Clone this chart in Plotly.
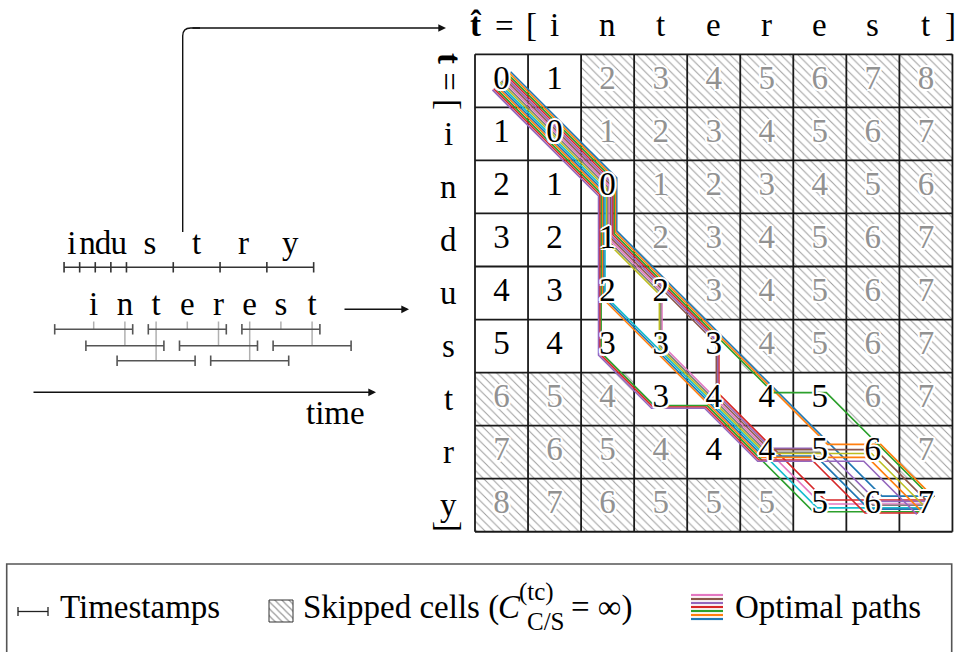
import plotly.graph_objects as go

W, H = 958, 652

# ---------------- data ----------------
industry_chars = list("industry")
industry_bounds = [0.6, 1.6, 2.6, 3.6, 4.6, 7.6, 10.6, 13.6, 16.6]
interest_chars = list("interest")
window_starts = [0, 2, 4, 6, 8, 10, 12, 14]
window_len = 5
window_lane = [0, 1, 2, 0, 1, 2, 0, 1]

row_labels = list("industry")
col_labels = list("interest")
cost = [
    [0, 1, 2, 3, 4, 5, 6, 7, 8],
    [1, 0, 1, 2, 3, 4, 5, 6, 7],
    [2, 1, 0, 1, 2, 3, 4, 5, 6],
    [3, 2, 1, 2, 3, 4, 5, 6, 7],
    [4, 3, 2, 2, 3, 4, 5, 6, 7],
    [5, 4, 3, 3, 3, 4, 5, 6, 7],
    [6, 5, 4, 3, 4, 4, 5, 6, 7],
    [7, 6, 5, 4, 4, 4, 5, 6, 7],
    [8, 7, 6, 5, 5, 5, 5, 6, 7],
]
skipped = [
    [0, 0, 1, 1, 1, 1, 1, 1, 1],
    [0, 0, 1, 1, 1, 1, 1, 1, 1],
    [0, 0, 0, 1, 1, 1, 1, 1, 1],
    [0, 0, 0, 1, 1, 1, 1, 1, 1],
    [0, 0, 0, 0, 1, 1, 1, 1, 1],
    [0, 0, 0, 0, 0, 1, 1, 1, 1],
    [1, 1, 1, 0, 0, 0, 0, 1, 1],
    [1, 1, 1, 1, 0, 0, 0, 0, 1],
    [1, 1, 1, 1, 1, 1, 0, 0, 0],
]
path_colors = ["#1f77b4", "#ff7f0e", "#2ca02c", "#d62728", "#9467bd",
               "#8c564b", "#e377c2", "#7f7f7f", "#bcbd22", "#17becf"]
legend_text = ["Timestamps", "Skipped cells (", "Optimal paths"]

# ---------------- style ----------------
FONT = "Liberation Serif"
FS = 33
HALO = ("white 2px 0px 0px, white -2px 0px 0px, white 0px 2px 0px, white 0px -2px 0px, "
        "white 1.5px 1.5px 0px, white -1.5px -1.5px 0px, white 1.5px -1.5px 0px, white -1.5px 1.5px 0px")

def px(x):
    return x / W

def py(y):
    return 1 - y / H

R, C = len(cost), len(cost[0])
CELL = 53.05
GX0, GY0 = 475.0, 54.3  # grid top-left in pixels
PADU = 0.06

# ---------------- optimal paths (backtracking on the cost matrix) ----------------
def preds(r, c):
    out = []
    for dr, dc, code in [(1, 1, 0), (1, 0, 1), (0, 1, 2)]:
        pr, pc = r - dr, c - dc
        if pr < 0 or pc < 0 or skipped[pr][pc]:
            continue
        if dr and dc:
            step = 0 if row_labels[r - 1] == col_labels[c - 1] else 1
        else:
            step = 1
        if cost[pr][pc] + step == cost[r][c]:
            out.append(((pr, pc), code))
    return out

paths = []

def back(cell, cells, codes):
    if cell == (0, 0):
        paths.append((codes[::-1], cells[::-1]))
        return
    for p, code in preds(*cell):
        back(p, cells + [p], codes + [code])

back((R - 1, C - 1), [(R - 1, C - 1)], [])
paths.sort(key=lambda t: t[0])

fig = go.Figure()

# ---------------- hatched (skipped) cells ----------------
hx, hb = [], []
for r in range(R):
    for c in range(C):
        if skipped[r][c]:
            hx.append(c)
            hb.append(r - 0.5)
fig.add_trace(go.Bar(
    x=hx, y=[1] * len(hx), base=hb, width=1, xaxis="x2", yaxis="y2",
    marker=dict(color="white", line=dict(width=0),
                pattern=dict(shape="\\", fgcolor="#3c3c3c", bgcolor="white", size=6, solidity=0.17)),
    hoverinfo="skip", showlegend=False))

# ---------------- grid lines ----------------
gx, gy = [], []
for i in range(C + 1):
    gx += [i - 0.5, i - 0.5, None]
    gy += [-0.5, R - 0.5, None]
for j in range(R + 1):
    gx += [-0.5, C - 0.5, None]
    gy += [j - 0.5, j - 0.5, None]
fig.add_trace(go.Scatter(x=gx, y=gy, xaxis="x2", yaxis="y2", mode="lines",
                         line=dict(color="#1a1a1a", width=1.8), hoverinfo="skip", showlegend=False))

# ---------------- paths ----------------
n = len(paths)
s = 1.3 / CELL
for k, (codes, cells) in enumerate(paths):
    off = ((n - 1) / 2 - k) * s
    fig.add_trace(go.Scatter(
        x=[c + off for r, c in cells], y=[r - off for r, c in cells],
        xaxis="x2", yaxis="y2", mode="lines",
        line=dict(color=path_colors[k % 10], width=1.6),
        hoverinfo="skip", showlegend=False))

# ---------------- cell numbers ----------------
for flag, col in [(0, "black"), (1, "#929292")]:
    xs, ys, ts = [], [], []
    for r in range(R):
        for c in range(C):
            if skipped[r][c] == flag:
                xs.append(c)
                ys.append(r)
                ts.append(str(cost[r][c]))
    fig.add_trace(go.Scatter(
        x=xs, y=ys, text=ts, mode="text", xaxis="x2", yaxis="y2",
        textposition="middle center",
        textfont=dict(family=FONT, size=FS, color=col, shadow=HALO),
        hoverinfo="skip", showlegend=False))

# ---------------- timelines ----------------
Y_IND = 267.3
Y_LANES = [329.3, 345.7, 360.7]
Y_TICKTOP = 321.5
TK = 5.2

# industry
ix = [industry_bounds[0], industry_bounds[-1], None]
iy = [Y_IND, Y_IND, None]
for b in industry_bounds:
    ix += [b, b, None]
    iy += [Y_IND - TK, Y_IND + TK, None]
fig.add_trace(go.Scatter(x=ix, y=iy, mode="lines", line=dict(color="#333333", width=1.6),
                         hoverinfo="skip", showlegend=False))
mids = [(industry_bounds[i] + industry_bounds[i + 1]) / 2 for i in range(len(industry_chars))]
fig.add_trace(go.Scatter(x=mids, y=[246] * len(mids), text=industry_chars, mode="text",
                         textfont=dict(family=FONT, size=FS, color="black"),
                         hoverinfo="skip", showlegend=False))

# interest windows
cx, cy, wx, wy = [], [], [], []
centers = []
for st, lane in zip(window_starts, window_lane):
    yl = Y_LANES[lane]
    en = st + window_len
    mid = st + window_len / 2
    centers.append(mid)
    cx += [mid, mid, None]
    cy += [Y_TICKTOP, yl, None]
    wx += [st, en, None, st, st, None, en, en, None]
    wy += [yl, yl, None, yl - TK, yl + TK, None, yl - TK, yl + TK, None]
fig.add_trace(go.Scatter(x=cx, y=cy, mode="lines", line=dict(color="#b0b0b0", width=1.5),
                         hoverinfo="skip", showlegend=False))
fig.add_trace(go.Scatter(x=wx, y=wy, mode="lines", line=dict(color="#555555", width=1.6),
                         hoverinfo="skip", showlegend=False))
fig.add_trace(go.Scatter(x=centers, y=[307] * len(centers), text=interest_chars, mode="text",
                         textfont=dict(family=FONT, size=FS, color="black"),
                         hoverinfo="skip", showlegend=False))

# ---------------- legend icons (pixel axes x3 / y) ----------------
LY = 611.5
fig.add_trace(go.Scatter(x=[18, 48, None, 18, 18, None, 48, 48], y=[LY, LY, None, LY - 4.5, LY + 4.5, None, LY - 4.5, LY + 4.5],
                         xaxis="x3", yaxis="y", mode="lines", line=dict(color="#222", width=1.3),
                         hoverinfo="skip", showlegend=False))
fig.add_trace(go.Scatter(x=[269, 293, 293, 269, 269], y=[600, 600, 622, 622, 600], xaxis="x3", yaxis="y",
                         mode="lines", fill="toself", fillcolor="white",
                         fillpattern=dict(shape="\\", fgcolor="#333", bgcolor="white", size=5, solidity=0.25),
                         line=dict(color="#333", width=1), hoverinfo="skip", showlegend=False))
for j, ci in enumerate([6, 5, 4, 3, 2, 1, 0]):
    yy = 595 + j * 4
    fig.add_trace(go.Scatter(x=[691, 723], y=[yy, yy], xaxis="x3", yaxis="y", mode="lines",
                             line=dict(color=path_colors[ci], width=2.2), hoverinfo="skip", showlegend=False))

# ---------------- annotations ----------------
ann = []

def txt(x, y, t, size=FS, xanchor="center", angle=0, xref="paper", yref="paper", color="black"):
    ann.append(dict(x=x, y=y, xref=xref, yref=yref, text=t, showarrow=False, xanchor=xanchor,
                    yanchor="middle", textangle=angle,
                    font=dict(family=FONT, size=size, color=color)))

# column header
txt(px(475.5), py(25), "<b>t\u0302</b>")
txt(px(504), py(26), "=")
txt(px(531), py(25), "[")
for c, ch in enumerate(col_labels):
    txt(c + 1, py(25), ch, xref="x2")
txt(px(950), py(25), "]")
# row header
txt(px(449), py(81), "<b>t</b> = [", angle=90)
for r, ch in enumerate(row_labels):
    txt(px(448), r + 1, ch, yref="y2")
txt(px(449), py(526), "]", angle=90)

txt(px(335), py(413), "time")

# legend texts
txt(px(58), py(607), legend_text[0], xanchor="left")
txt(px(301), py(607), legend_text[1], xanchor="left")
txt(px(496), py(607), "<i>C</i>", xanchor="left")
txt(px(517), py(592), "(tc)", size=25, xanchor="left")
txt(px(525), py(621), "C/S", size=25, xanchor="left")
txt(px(569), py(607), "= \u221e)", xanchor="left")
txt(px(733), py(607), legend_text[2], xanchor="left")

# arrows
def arrow(x, y, dx):
    ann.append(dict(x=px(x), y=py(y), xref="paper", yref="paper", ax=-dx, ay=0, text="",
                    showarrow=True, arrowhead=2, arrowsize=1.1, arrowwidth=1.4, arrowcolor="#111",
                    standoff=0, startstandoff=0))

arrow(446, 28, 255)
arrow(409, 309.3, 66)
arrow(376, 392.3, 344)

shapes = [
    dict(type="path", xref="paper", yref="paper",
         path=f"M {px(182.7)},{py(232)} L {px(182.7)},{py(36)} Q {px(182.7)},{py(28)} {px(190.7)},{py(28)} L {px(200)},{py(28)}",
         line=dict(color="#111", width=1.4)),
    dict(type="rect", xref="paper", yref="paper", x0=px(6.7), x1=px(951.7), y0=py(656), y1=py(564),
         line=dict(color="#555", width=1.6), fillcolor="rgba(0,0,0,0)"),
]

# ---------------- layout ----------------
x0p = GX0 - PADU * CELL
x1p = GX0 + C * CELL + PADU * CELL
y0p = GY0 - PADU * CELL
y1p = GY0 + R * CELL + PADU * CELL
T0_PX, UNIT = 54.7, 15.6

fig.update_layout(
    width=W, height=H, autosize=False,
    margin=dict(l=0, r=0, t=0, b=0),
    paper_bgcolor="white", plot_bgcolor="rgba(0,0,0,0)",
    barmode="overlay", bargap=0,
    font=dict(family=FONT),
    xaxis=dict(domain=[0, 1], range=[-T0_PX / UNIT, (W - T0_PX) / UNIT], visible=False, fixedrange=True),
    yaxis=dict(domain=[0, 1], range=[H, 0], visible=False, fixedrange=True),
    xaxis3=dict(domain=[0, 1], range=[0, W], visible=False, anchor="y", overlaying="x", fixedrange=True),
    xaxis2=dict(domain=[px(x0p), px(x1p)], range=[-0.5 - PADU, C - 0.5 + PADU], visible=False,
                anchor="y2", fixedrange=True),
    yaxis2=dict(domain=[py(y1p), py(y0p)], range=[R - 0.5 + PADU, -0.5 - PADU], visible=False,
                anchor="x2", fixedrange=True),
    annotations=ann, shapes=shapes, showlegend=False,
)

fig.write_html("out.html", config={"displayModeBar": False})
